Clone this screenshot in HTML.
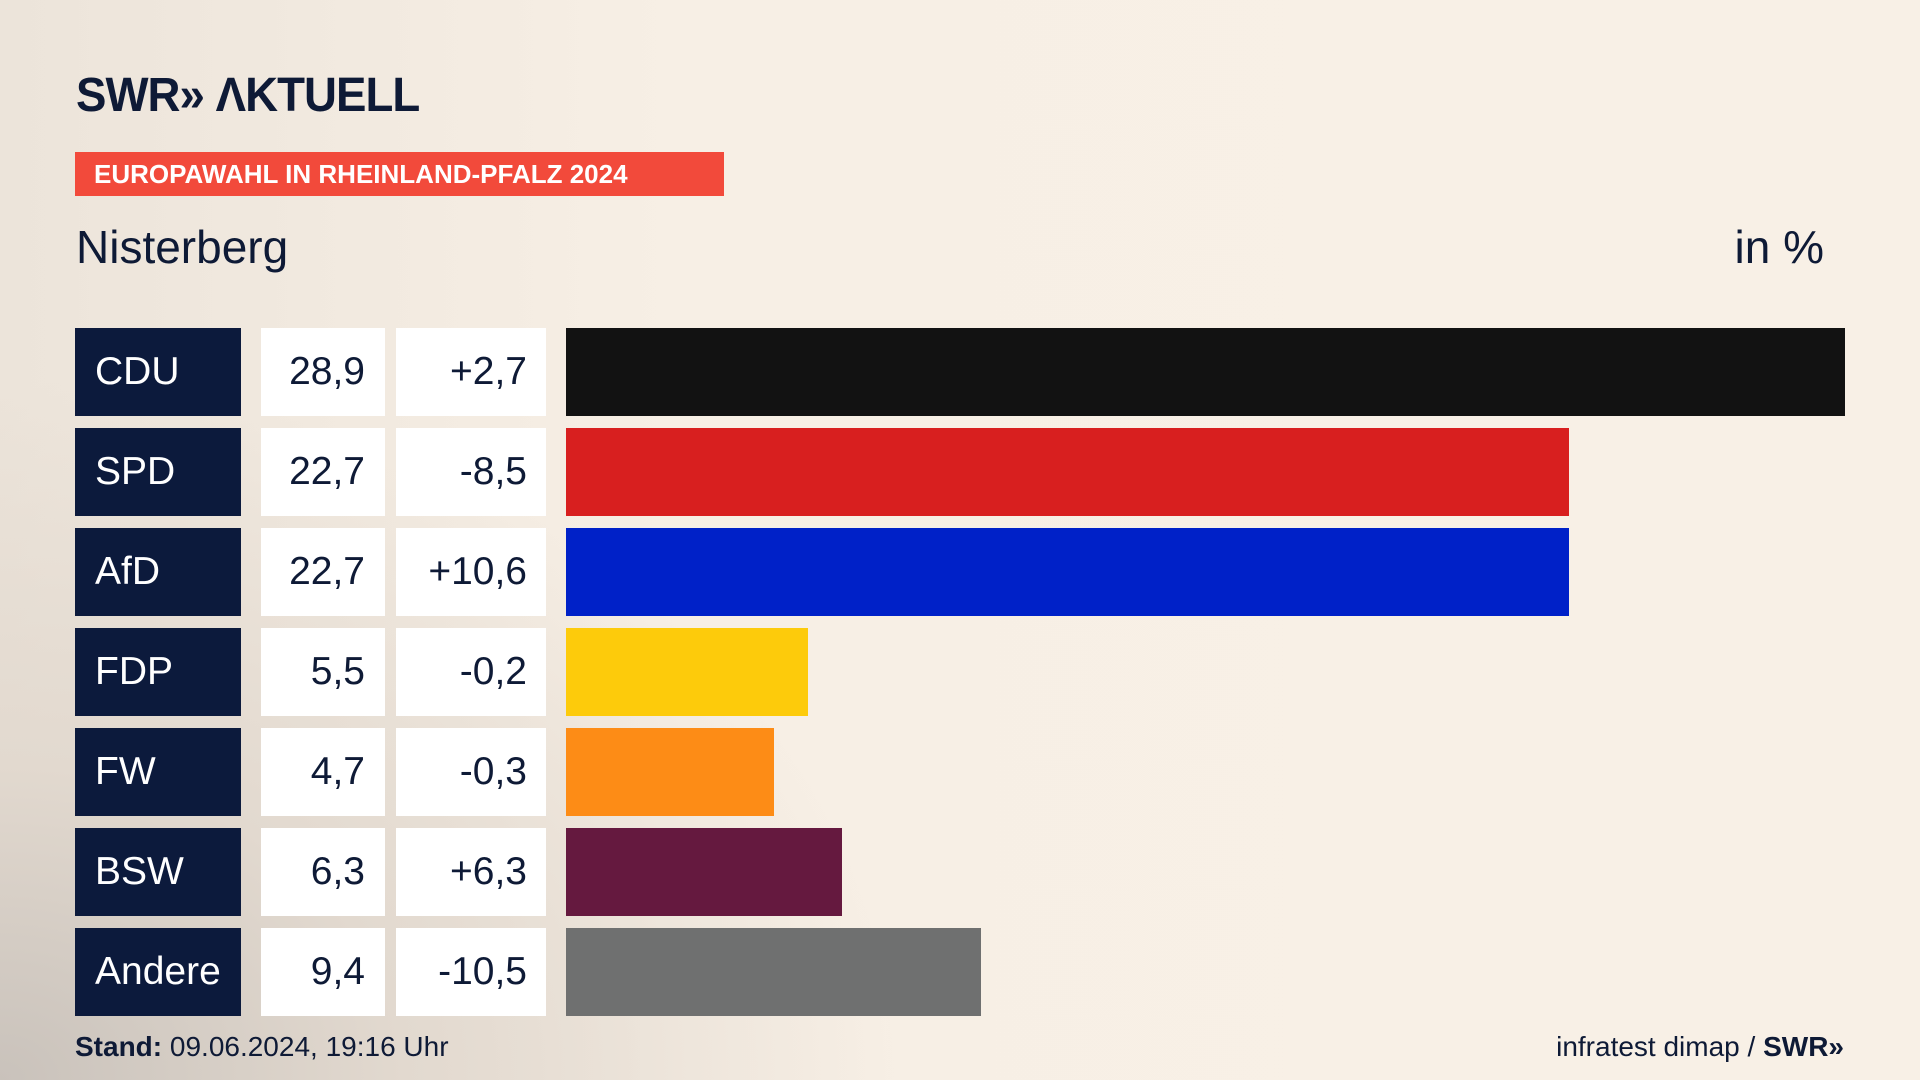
<!DOCTYPE html>
<html><head><meta charset="utf-8"><style>
*{margin:0;padding:0;box-sizing:border-box}
body{width:1920px;height:1080px;overflow:hidden;font-family:"Liberation Sans","DejaVu Sans",sans-serif;color:#0e1a36;
background:radial-gradient(ellipse 900px 700px at 0px 1080px,#c9c2bb 0%,#e2d9cf 45%,rgba(247,239,229,0) 100%),linear-gradient(90deg,#ece4da 0%,#f7efe5 35%,#f8f0e6 100%);position:relative}
.abs{position:absolute}
.logo{left:76px;top:68px;font-size:48px;font-weight:bold;letter-spacing:-1px;color:#0e1a36;transform:scaleX(0.95);transform-origin:left}
.banner{left:75px;top:152px;width:649px;height:44px;background:#f24a3b;color:#fff;font-weight:bold;font-size:26px;line-height:44px;padding-left:19px}
.title{left:76px;top:220px;font-size:46px}
.unit{right:96px;top:220px;font-size:46px}
.box{position:absolute;height:88px;line-height:88px;font-size:39px}
.p{left:75px;width:166px;background:#0c1a3c;color:#fff;padding-left:20px}
.v{left:261px;width:124px;background:#fff;text-align:right;padding-right:20px}
.d{left:396px;width:150px;background:#fff;text-align:right;padding-right:19px}
.bar{position:absolute;left:566px;height:88px}
.foot{top:1031px;font-size:28px}
</style></head><body>
<div class="abs logo">SWR» ΛKTUELL</div>
<div class="abs banner">EUROPAWAHL IN RHEINLAND-PFALZ 2024</div>
<div class="abs title">Nisterberg</div>
<div class="abs unit">in %</div>

<div class="box p" style="top:328px">CDU</div><div class="box v" style="top:328px">28,9</div><div class="box d" style="top:328px">+2,7</div><div class="bar" style="top:328px;width:1279px;background:#121212"></div>
<div class="box p" style="top:428px">SPD</div><div class="box v" style="top:428px">22,7</div><div class="box d" style="top:428px">-8,5</div><div class="bar" style="top:428px;width:1003px;background:#d81f1f"></div>
<div class="box p" style="top:528px">AfD</div><div class="box v" style="top:528px">22,7</div><div class="box d" style="top:528px">+10,6</div><div class="bar" style="top:528px;width:1003px;background:#0021c8"></div>
<div class="box p" style="top:628px">FDP</div><div class="box v" style="top:628px">5,5</div><div class="box d" style="top:628px">-0,2</div><div class="bar" style="top:628px;width:242px;background:#fdcb0b"></div>
<div class="box p" style="top:728px">FW</div><div class="box v" style="top:728px">4,7</div><div class="box d" style="top:728px">-0,3</div><div class="bar" style="top:728px;width:208px;background:#fd8c16"></div>
<div class="box p" style="top:828px">BSW</div><div class="box v" style="top:828px">6,3</div><div class="box d" style="top:828px">+6,3</div><div class="bar" style="top:828px;width:276px;background:#65193f"></div>
<div class="box p" style="top:928px">Andere</div><div class="box v" style="top:928px">9,4</div><div class="box d" style="top:928px">-10,5</div><div class="bar" style="top:928px;width:415px;background:#6f7070"></div>

<div class="abs foot" style="left:75px"><b>Stand:</b> 09.06.2024, 19:16 Uhr</div>
<div class="abs foot" style="right:76px">infratest dimap / <b>SWR»</b></div>
</body></html>
